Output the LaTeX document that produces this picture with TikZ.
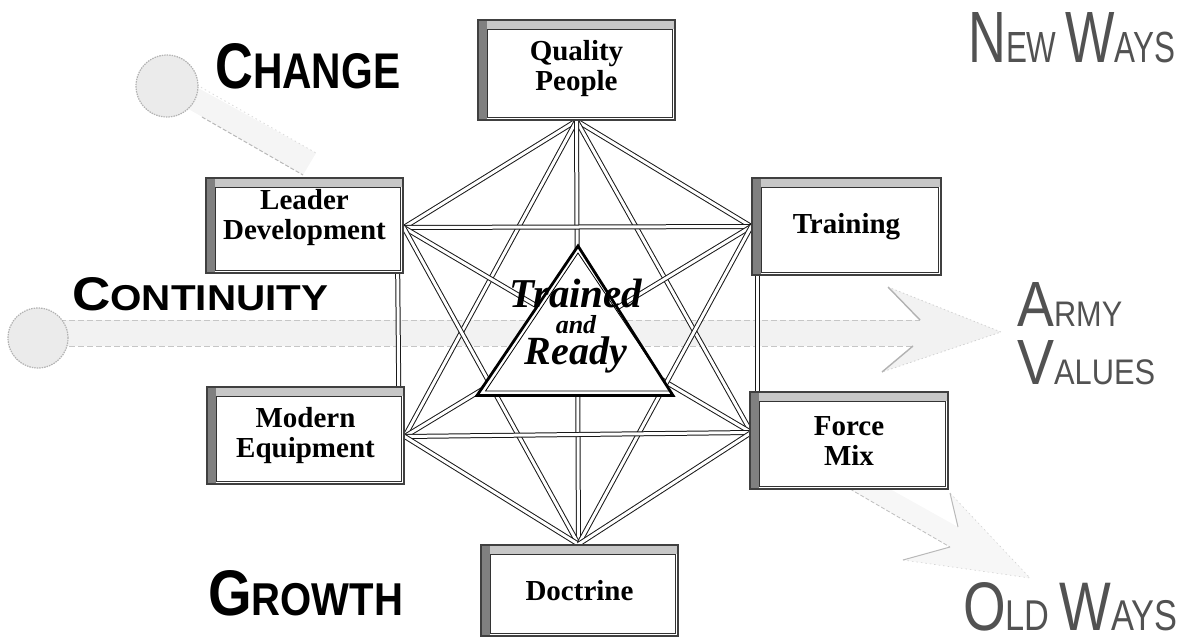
\documentclass[tikz,border=0pt]{standalone}
\usepackage{fontspec}
\setmainfont{Liberation Serif}
\newfontfamily\helv{Liberation Sans}
\usetikzlibrary{calc}
\pgfdeclarelayer{background}
\pgfsetlayers{background,main}
\begin{document}
\begin{tikzpicture}[x=1pt,y=-1pt,
  box/.style={rectangle, draw=black!75, line width=1.4pt, fill=white, align=center,
    inner sep=0pt, font=\bfseries\fontsize{29}{30}\selectfont,
    path picture={
      \fill[black!50] (path picture bounding box.north west) rectangle ([xshift=9pt]path picture bounding box.south west);
      \fill[black!22] ([xshift=9pt]path picture bounding box.north west) rectangle ([yshift=-9pt]path picture bounding box.north east);
      \draw[black!80, line width=0.6pt] ([xshift=9pt,yshift=-9pt]path picture bounding box.north west) rectangle ([xshift=-3pt,yshift=3pt]path picture bounding box.south east);
    }},
  edge/.style={draw=black!90, line width=1pt, double=white, double distance=3pt},
  lab/.style={inner sep=0pt, anchor=base west, font=\helv\bfseries},
  outl/.style={inner sep=0pt, anchor=base west, font=\helv, text=black!68},
  trt/.style={inner sep=0pt, anchor=base, font=\bfseries\itshape},
  band/.style={fill=gray!10},
  barb/.style={draw=gray!60, line width=1.4pt},
  sphere/.style={fill=gray!16, draw=gray!60, line width=1.2pt, dash pattern=on 1.5pt off 1pt}
]
\useasboundingbox (0,0) rectangle (1186,643);

% boxes
\node[box, minimum width=197pt, minimum height=100pt, text depth=10pt] (q) at (576.5,70) {Quality\\People};
\node[box, minimum width=197pt, minimum height=95pt, text depth=22pt] (l) at (304.5,225.5) {Leader\\Development};
\node[box, minimum width=189pt, minimum height=97pt] (t) at (846.5,226.5) {Training};
\node[box, minimum width=197pt, minimum height=97pt] (me) at (305.5,435.5) {Modern\\Equipment};
\node[box, minimum width=198pt, minimum height=97pt] (fm) at (849,440.5) {Force\\Mix};
\node[box, minimum width=197pt, minimum height=91pt] (d) at (579.5,590.5) {Doctrine};

\coordinate (qp) at (q.south);
\coordinate (lp) at ($(l.east)+(0,2)$);
\coordinate (tp) at (t.west);
\coordinate (mp) at ($(me.east)+(0,1)$);
\coordinate (fp) at ($(fm.west)+(2,-8)$);
\coordinate (dp) at ($(d.north)+(-1,0)$);

\begin{pgfonlayer}{background}
  % change arrow
  \fill[band, fill=gray!8] (180,78) -- (316,153) -- (303,175) -- (185,107) -- cycle;
  \draw[gray!55, line width=1pt, dash pattern=on 4pt off 2pt] (202,117) -- (303,175);
  \draw[gray!30, line width=0.8pt, dash pattern=on 1.5pt off 3pt] (197,85) -- (316,153);
  \draw[sphere] (167,86) circle[radius=31pt];
  % continuity arrow
  \fill[band] (40,320) -- (920,320) -- (888,287) -- (1001,332) -- (882,372) -- (913,346) -- (40,346) -- cycle;
  \draw[gray!45, line width=0.8pt, dash pattern=on 6pt off 3pt] (60,320) -- (920,320);
  \draw[gray!45, line width=0.8pt, dash pattern=on 6pt off 3pt] (60,346) -- (913,346);
  \draw[gray!35, line width=0.8pt, dash pattern=on 1.5pt off 2.5pt] (888,287) -- (1001,332) -- (882,372);
  \draw[barb] (920,320) -- (888,287);
  \draw[barb] (913,346) -- (882,372);
  \draw[sphere] (38,338) circle[radius=30pt];
  % old ways arrow
  \fill[gray!6] (850,489) -- (950,547) -- (903,560) -- (1030,578) -- (950,493) -- (958,527) -- (890,489) -- cycle;
  \draw[gray!50, line width=0.8pt, dash pattern=on 4pt off 2pt] (850,489) -- (950,547);
  \draw[gray!35, line width=0.6pt, dash pattern=on 1.5pt off 3pt] (903,560) -- (1030,578) -- (950,493);
  \draw[gray!55, line width=1pt] (950,547) -- (903,560);
  \draw[gray!55, line width=1pt] (950,493) -- (958,527);
  % network
  \foreach \a/\b in {qp/lp, qp/tp, qp/mp, qp/fp, qp/dp, lp/tp, lp/fp, lp/dp, tp/mp, tp/dp, mp/fp, mp/dp, fp/dp}
    \draw[edge] (\a) -- (\b);
  \draw[edge] ($(l.south east)+(-6,0)$) -- ($(me.north east)+(-6,0)$);
  \draw[edge] ($(t.south west)+(6,0)$) -- ($(fm.north west)+(8,0)$);
  % triangle
  \filldraw[fill=white, draw=black, line width=2.8pt, line join=miter] (578,246) -- (477,395.5) -- (673,395.5) -- cycle;
  \draw[black, line width=0.8pt] (578,253) -- (485.5,391) -- (670.5,391) -- cycle;
\end{pgfonlayer}

\node[trt] (tr) at (576,364) {\vbox{\offinterlineskip\halign{\hfil#\hfil\cr
  \fontsize{41}{41}\selectfont Trained\vrule height 27pt depth 0pt width 0pt\cr
  \fontsize{26}{26}\selectfont and\vrule height 26pt depth 0pt width 0pt\cr
  \fontsize{40}{40}\selectfont Ready\vrule height 30pt depth 0pt width 0pt\cr}}};

% labels
\node[lab] (change) at (215,88) {\resizebox{185pt}{45pt}{\fontsize{63}{63}\selectfont C\fontsize{49}{49}\selectfont HANGE}};
\node[lab] (cont) at (72,310) {\resizebox{256pt}{33pt}{\fontsize{46}{46}\selectfont C\fontsize{35}{35}\selectfont ONTINUITY}};
\node[lab] (growth) at (208,615) {\resizebox{195pt}{45pt}{\fontsize{63}{63}\selectfont G\fontsize{45}{45}\selectfont ROWTH}};
\node[outl] (neww) at (968,62) {\resizebox{207pt}{50pt}{\fontsize{70}{70}\selectfont N\fontsize{42}{42}\selectfont EW \fontsize{70}{70}\selectfont W\fontsize{42}{42}\selectfont AYS}};
\node[outl] (army) at (1017,326) {\resizebox{105pt}{44pt}{\fontsize{63}{63}\selectfont A\fontsize{35}{35}\selectfont RMY}};
\node[outl] (values) at (1017,384) {\resizebox{138pt}{44pt}{\fontsize{63}{63}\selectfont V\fontsize{35}{35}\selectfont ALUES}};
\node[outl] (oldw) at (963,630) {\resizebox{214pt}{48pt}{\fontsize{67}{67}\selectfont O\fontsize{42}{42}\selectfont LD \fontsize{67}{67}\selectfont W\fontsize{42}{42}\selectfont AYS}};
\end{tikzpicture}
\end{document}
